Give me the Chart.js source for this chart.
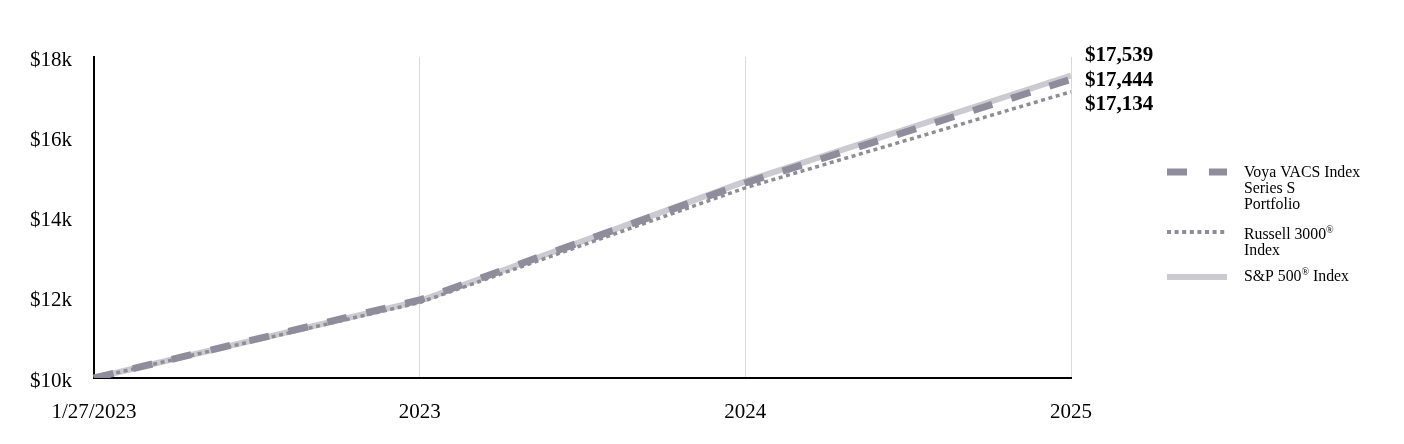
<!DOCTYPE html>
<html><head><meta charset="utf-8">
<script src="https://cdn.jsdelivr.net/npm/chart.js@4/dist/chart.umd.min.js"></script>
<style>html,body{margin:0;padding:0;background:#fff;}#wrap{width:1404px;height:444px;position:relative;}</style>
</head><body><div id="wrap"><canvas id="c" width="1404" height="444"></canvas></div>
<script>
const categories = ['1/27/2023', '2023', '2024', '2025'];
const voya = [10000, 11945, 14860, 17444];
const russell = [10000, 11880, 14740, 17134];
const sp500 = [10000, 11920, 14900, 17539];
const yTicks = [10000, 12000, 14000, 16000, 18000];
const endLabels = ['$17,539', '$17,444', '$17,134'];
const seriesNames = [['Voya VACS Index', 'Series S', 'Portfolio'], ['Russell 3000', 'Index'], ['S&P 500', ' Index']];

const C_VOYA = '#8f8d9c', C_RUS = '#8e8d95', C_SP = '#cbcad0';
const FONT = '"Liberation Serif","Times New Roman",serif';

const overlay = {
  id: 'overlay',
  afterDraw(chart) {
    const ctx = chart.ctx, a = chart.chartArea;
    ctx.save();
    ctx.fillStyle = '#000';
    ctx.font = 'bold 21px ' + FONT;
    ctx.textBaseline = 'middle';
    ctx.textAlign = 'left';
    endLabels.forEach((t, i) => ctx.fillText(t, a.right + 14, a.top - 1 + i * 24.5));
    // legend
    const lx = 1167, tx = 1244;
    function sample(y, color, w, dash) {
      ctx.beginPath(); ctx.strokeStyle = color; ctx.lineWidth = w; ctx.setLineDash(dash); ctx.lineCap = 'butt';
      ctx.moveTo(lx, y); ctx.lineTo(lx + 60, y); ctx.stroke(); ctx.setLineDash([]);
    }
    sample(172, C_VOYA, 7, [20, 22]);
    sample(232, C_RUS, 4, [4, 3.6]);
    sample(277, C_SP, 6, []);
    ctx.fillStyle = '#000';
    const F = '15.8px ' + FONT, FS = '10px ' + FONT;
    function line(parts, x, y) {
      let cx = x;
      parts.forEach(p => {
        ctx.font = p.s ? FS : F;
        ctx.fillText(p.t, cx, p.s ? y - 5 : y);
        cx += ctx.measureText(p.t).width;
      });
    }
    line([{ t: seriesNames[0][0] }], tx, 173);
    line([{ t: seriesNames[0][1] }], tx, 189);
    line([{ t: seriesNames[0][2] }], tx, 205);
    line([{ t: seriesNames[1][0] }, { t: '®', s: true }], tx, 235);
    line([{ t: seriesNames[1][1] }], tx, 251);
    line([{ t: seriesNames[2][0] }, { t: '®', s: true }, { t: seriesNames[2][1] }], tx, 277);
    ctx.restore();
  }
};

new Chart(document.getElementById('c'), {
  type: 'line',
  data: {
    labels: categories,
    datasets: [
      { label: 'Voya VACS Index Series S Portfolio', data: voya, borderColor: C_VOYA, borderWidth: 7, borderDash: [20, 20], borderCapStyle: 'butt' },
      { label: 'Russell 3000® Index', data: russell, borderColor: C_RUS, borderWidth: 3.5, borderDash: [4, 3.6], borderCapStyle: 'butt' },
      { label: 'S&P 500® Index', data: sp500, borderColor: C_SP, borderWidth: 6, borderCapStyle: 'butt' }
    ]
  },
  options: {
    responsive: false, animation: false,
    layout: { padding: { left: 0, right: 333, top: 57, bottom: 0 } },
    elements: { point: { radius: 0 }, line: { tension: 0, fill: false } },
    plugins: { legend: { display: false }, tooltip: { enabled: false } },
    scales: {
      x: {
        offset: false,
        grid: { color: (c) => c.index === 0 ? 'rgba(0,0,0,0)' : '#d9d9d9', lineWidth: 1, drawTicks: false },
        border: { color: '#000', width: 2 },
        ticks: { color: '#000', font: { family: FONT, size: 21 }, padding: 22, maxRotation: 0, autoSkip: false },
        afterFit(s) { s.height = 66; }
      },
      y: {
        min: 10000, max: 18000,
        afterBuildTicks(s) { s.ticks = yTicks.map(v => ({ value: v })); },
        grid: { display: false, drawTicks: false },
        border: { color: '#000', width: 2 },
        ticks: { color: '#000', font: { family: FONT, size: 21 }, padding: 22, labelOffset: 3, callback: (v) => '$' + (v / 1000) + 'k' },
        afterFit(s) { s.width = 94; }
      }
    }
  },
  plugins: [overlay]
});
</script></body></html>
